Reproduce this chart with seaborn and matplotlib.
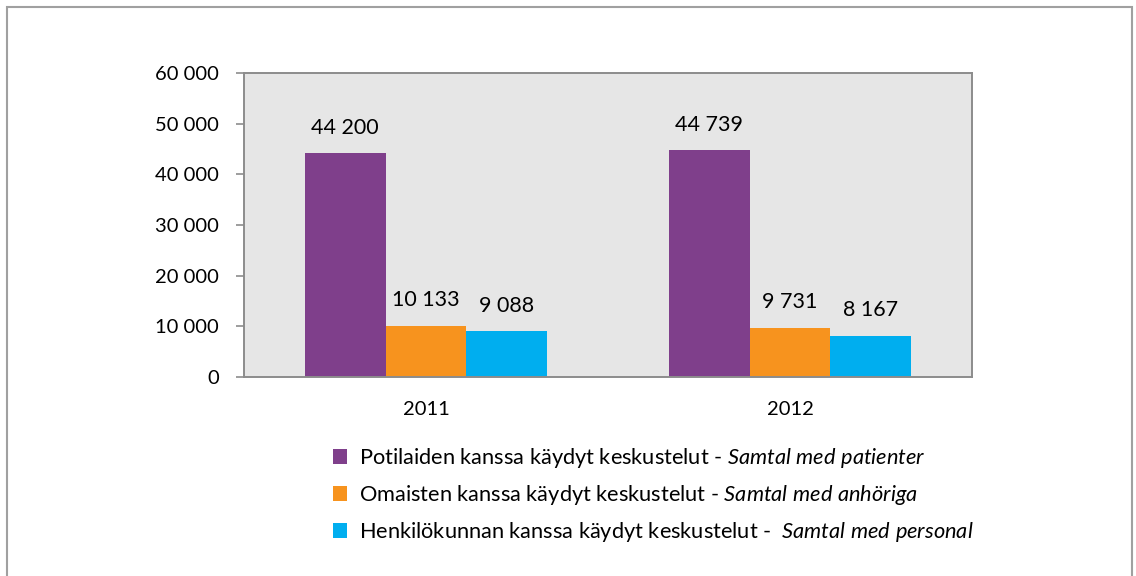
#!/usr/bin/env python3
# Grouped bar chart: conversations by type, 2011 vs 2012

import pandas as pd
import seaborn as sns
import matplotlib.pyplot as plt
from matplotlib.patches import Rectangle
from matplotlib.ticker import FuncFormatter

YEARS      = ["2011", "2012"]
PATIENTER  = [44200, 44739]
ANHORIGA   = [10133, 9731]
PERSONAL   = [9088, 8167]
SERIES     = [
    r"Potilaiden kanssa käydyt keskustelut - $\mathit{Samtal\ med\ patienter}$",
    r"Omaisten kanssa käydyt keskustelut - $\mathit{Samtal\ med\ anhöriga}$",
    r"Henkilökunnan kanssa käydyt keskustelut -  $\mathit{Samtal\ med\ personal}$",
]
PALETTE    = ["#7F3F8B", "#F7931E", "#00AEEF"]
Y_TICKS    = [0, 10000, 20000, 30000, 40000, 50000, 60000]


def fmt(v):
    return f"{int(v):,}".replace(",", " ")


def main():
    rows = []
    for name, vals in zip(SERIES, [PATIENTER, ANHORIGA, PERSONAL]):
        for yr, v in zip(YEARS, vals):
            rows.append({"year": yr, "value": v, "series": name})
    df = pd.DataFrame(rows)

    sns.set_theme(style="white")
    plt.rcParams["font.family"] = ["Lato", "DejaVu Sans"]
    plt.rcParams["mathtext.fontset"] = "custom"
    plt.rcParams["mathtext.rm"] = "Lato"
    plt.rcParams["mathtext.it"] = "Lato:italic"

    fig = plt.figure(figsize=(11.36, 5.76), dpi=100)
    ax = fig.add_axes([244 / 1136, 1 - 377 / 576, 728 / 1136, 304 / 576])
    ax.set_facecolor("#E6E6E6")

    sns.barplot(
        data=df, x="year", y="value", hue="series", hue_order=SERIES,
        palette=PALETTE, width=0.666, saturation=1, errorbar=None,
        linewidth=0, ax=ax
    )

    # Value labels above bars
    for cont in ax.containers:
        ax.bar_label(cont, labels=[fmt(v) for v in cont.datavalues],
                     padding=11, fontsize=15.5, color="#000000")

    # Axes
    ax.set_xlim(-0.5, 1.5)
    ax.set_ylim(0, 60000)
    ax.set_yticks(Y_TICKS)
    ax.yaxis.set_major_formatter(FuncFormatter(lambda v, p: fmt(v)))
    ax.set_xlabel("")
    ax.set_ylabel("")
    ax.set_xticks([-0.5, 0.5, 1.5], minor=True)
    ax.tick_params(axis="x", which="major", length=0, pad=17, labelsize=14.5, labelcolor="#000000")
    ax.tick_params(axis="x", which="minor", length=6, width=1.5, color="#8C8C8C", direction="out")
    ax.tick_params(axis="y", length=6, width=1.2, color="#8C8C8C", direction="out",
                   pad=12, labelsize=14.5, labelcolor="#000000", left=True)
    for side in ("top", "right", "bottom", "left"):
        ax.spines[side].set_color("#8C8C8C")
        ax.spines[side].set_linewidth(1.4)

    # Legend below the plot
    handles, labels = ax.get_legend_handles_labels()
    ax.legend_.remove()
    fig.legend(handles, labels, loc="upper left",
               bbox_to_anchor=(333 / 1136, 1 - 446 / 576), frameon=False,
               borderaxespad=0, borderpad=0,
               fontsize=15.7, handlelength=0.65, handleheight=0.65,
               handletextpad=0.55, labelspacing=0.6, labelcolor="#000000")

    # Outer chart border
    fig.patches.append(Rectangle((7 / 1136, -0.05), 1125 / 1136, 1.05 - 7 / 576,
                                 transform=fig.transFigure, fill=False,
                                 edgecolor="#A0A0A0", linewidth=1.5))

    fig.savefig("out.png", dpi=100)


if __name__ == "__main__":
    main()
